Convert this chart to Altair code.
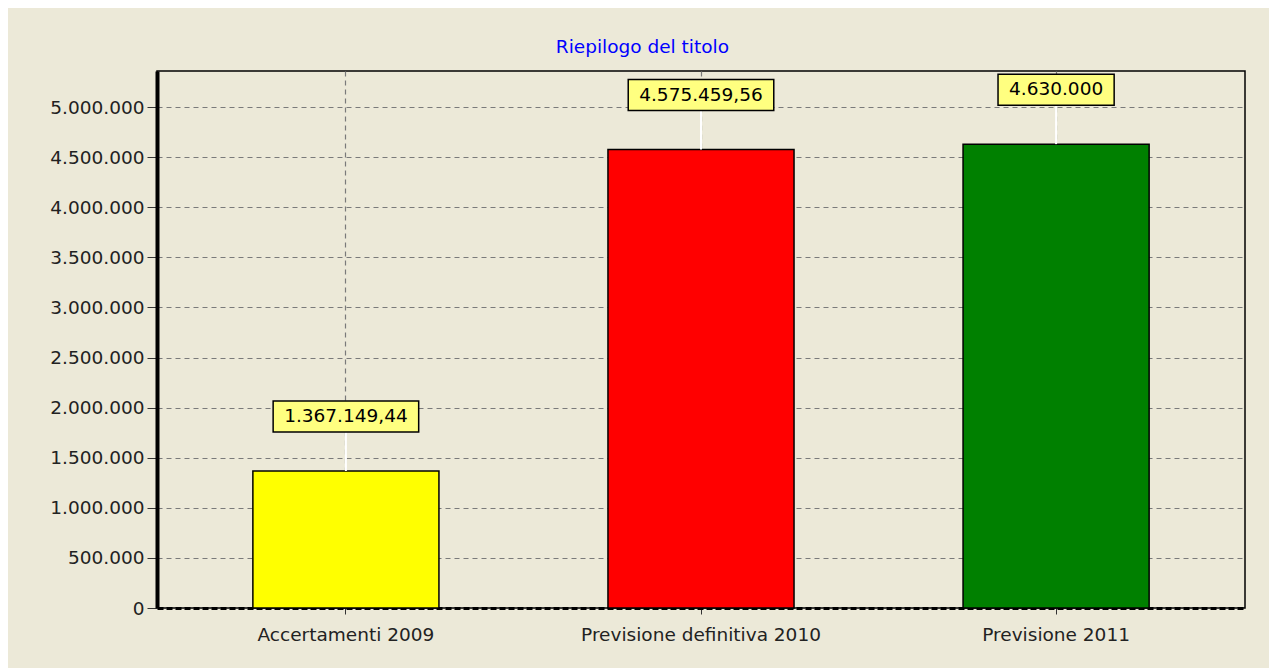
import altair as alt
import pandas as pd

categories = ["Accertamenti 2009", "Previsione definitiva 2010", "Previsione 2011"]
values = [1367149.44, 4575459.56, 4630000]
labels = ["1.367.149,44", "4.575.459,56", "4.630.000"]
colors = ["#FFFF00", "#FF0000", "#008000"]
y_ticks = [0, 500000, 1000000, 1500000, 2000000, 2500000, 3000000, 3500000,
           4000000, 4500000, 5000000]

df = pd.DataFrame({"cat": categories, "value": values, "label": labels})

FONT = "DejaVu Sans"
FS = 18.5
BG = "#ECE9D8"

xscale = alt.Scale(domain=categories, paddingInner=0.476, paddingOuter=0.27)
yscale = alt.Scale(domain=[0, 5360000], nice=False, zero=True)

xenc = alt.X("cat:N", scale=xscale, sort=categories, title=None,
             axis=alt.Axis(labelAngle=0, labelFont=FONT, labelFontSize=FS,
                           labelColor="#222222", labelPadding=11, labelLimit=0,
                           domainColor="black", domainWidth=3, domainDash=[6, 3],
                           tickColor="#333333", tickSize=6, bandPosition=0.5,
                           grid=True, gridDash=[5, 4], gridColor="#7A7A7A",
                           gridWidth=1.2))
yenc = alt.Y("value:Q", scale=yscale, title=None,
             axis=alt.Axis(values=y_ticks, format=",.0f", labelFont=FONT,
                           labelFontSize=FS, labelColor="#222222", labelPadding=3,
                           domainColor="black", domainWidth=4,
                           tickColor="#333333", tickSize=10, tickWidth=1,
                           grid=True, gridDash=[5, 4], gridColor="#7A7A7A",
                           gridWidth=1.2))

base = alt.Chart(df)

bars = base.mark_bar(stroke="black", strokeWidth=1.5).encode(
    x=xenc,
    y=yenc,
    color=alt.Color("cat:N", scale=alt.Scale(domain=categories, range=colors),
                    legend=None),
)

rules = base.mark_rule(color="white", strokeWidth=2, y2Offset=-39).encode(
    x=alt.X("cat:N", scale=xscale, sort=categories),
    y=alt.Y("value:Q", scale=yscale),
    y2=alt.Y2("value"),
)

# character widths of DejaVu Sans (em) to size the label boxes around the text
cw = {".": 0.318, ",": 0.318}
boxes = []
for cat, lab in zip(categories, labels):
    tw = sum(cw.get(ch, 0.636) for ch in lab) * FS
    boxes.append(
        base.transform_filter(alt.datum.cat == cat)
        .mark_rect(width=tw + 22, yOffset=-39, y2Offset=-70, fill="#FFFF80",
                   stroke="black", strokeWidth=1.5)
        .encode(x=alt.X("cat:N", scale=xscale, sort=categories),
                y=alt.Y("value:Q", scale=yscale),
                y2=alt.Y2("value"))
    )

texts = base.mark_text(font=FONT, fontSize=FS, color="black", dy=-55,
                       baseline="middle").encode(
    x=alt.X("cat:N", scale=xscale, sort=categories),
    y=alt.Y("value:Q", scale=yscale),
    text="label:N",
)

chart = alt.layer(bars, rules, *boxes, texts).properties(
    width=1088,
    height=537,
    autosize=alt.AutoSizeParams(type="none"),
    padding={"left": 149, "top": 63, "right": 24, "bottom": 60},
    background=BG,
    title=alt.TitleParams("Riepilogo del titolo", font=FONT, fontSize=FS,
                          fontWeight="normal", color="#0000FF", anchor="middle",
                          frame="bounds", offset=15, dx=-5),
).configure_view(stroke="black", strokeWidth=1.5)

chart.save("out.html", embed_options={
    "renderer": "svg", "actions": False,
    "formatLocale": {"decimal": ",", "thousands": ".", "grouping": [3],
                     "currency": ["", " €"]},
})
